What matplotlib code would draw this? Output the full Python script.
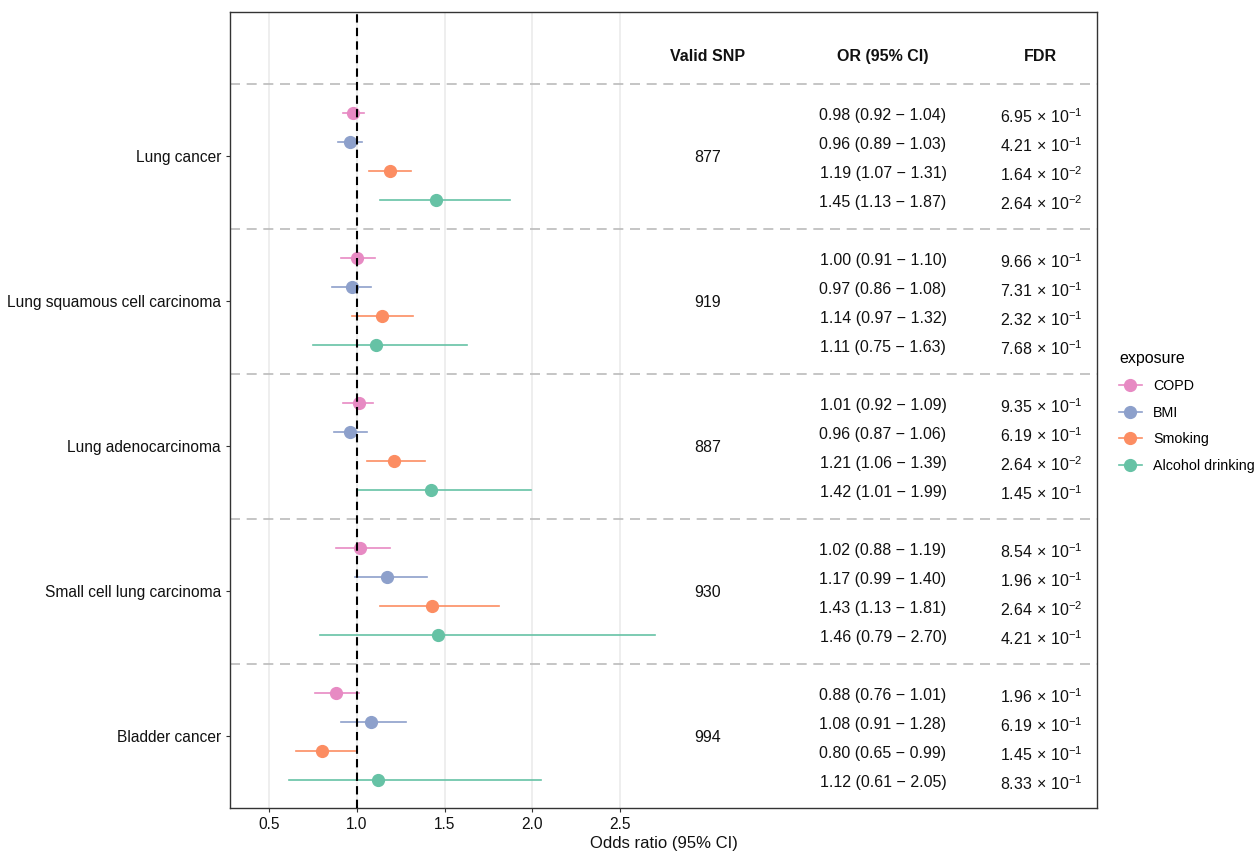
import matplotlib
matplotlib.use("Agg")
import matplotlib.pyplot as plt
from matplotlib.lines import Line2D

plt.rcParams['font.family'] = ['Liberation Sans', 'DejaVu Sans']
plt.rcParams['mathtext.fontset'] = 'custom'
plt.rcParams['mathtext.rm'] = 'Liberation Sans'
plt.rcParams['mathtext.it'] = 'Liberation Sans'

# data
cancers = ['Lung cancer', 'Lung squamous cell carcinoma', 'Lung adenocarcinoma',
           'Small cell lung carcinoma', 'Bladder cancer']
valid_snp = [877, 919, 887, 930, 994]
exposures = ['COPD', 'BMI', 'Smoking', 'Alcohol drinking']
colors = ['#E78AC3', '#8DA0CB', '#FC8D62', '#66C2A5']

# per cancer, rows in order COPD, BMI, Smoking, Alcohol drinking
odds = [[0.98, 0.96, 1.19, 1.45],
        [1.00, 0.97, 1.14, 1.11],
        [1.01, 0.96, 1.21, 1.42],
        [1.02, 1.17, 1.43, 1.46],
        [0.88, 1.08, 0.80, 1.12]]
ci_low = [[0.92, 0.89, 1.07, 1.13],
          [0.91, 0.86, 0.97, 0.75],
          [0.92, 0.87, 1.06, 1.01],
          [0.88, 0.99, 1.13, 0.79],
          [0.76, 0.91, 0.65, 0.61]]
ci_high = [[1.04, 1.03, 1.31, 1.87],
           [1.10, 1.08, 1.32, 1.63],
           [1.09, 1.06, 1.39, 1.99],
           [1.19, 1.40, 1.81, 2.70],
           [1.01, 1.28, 0.99, 2.05]]
fdr_mant = [['6.95', '4.21', '1.64', '2.64'],
            ['9.66', '7.31', '2.32', '7.68'],
            ['9.35', '6.19', '2.64', '1.45'],
            ['8.54', '1.96', '2.64', '4.21'],
            ['1.96', '6.19', '1.45', '8.33']]
fdr_exp = [[-1, -1, -2, -2],
           [-1, -1, -1, -1],
           [-1, -1, -2, -1],
           [-1, -1, -2, -1],
           [-1, -1, -1, -1]]

x_snp, x_or, x_fdr = 3.0, 4.0, 4.9
txt = '#111111'

fig = plt.figure(figsize=(12.57, 8.52), dpi=100)
ax = fig.add_axes([230 / 1257, 1 - 808 / 852, 867 / 1257, 796 / 852])

for g, cancer in enumerate(cancers):
    base = 2 + 5 * g
    ax.axhline(1 + 5 * g, color='#BBBBBB', lw=1.2, ls=(0, (6, 4)), zorder=1)
    ax.text(x_snp, base + 1.5, str(valid_snp[g]), ha='center', va='center_baseline',
            fontsize=11.5, color=txt)
    for r in range(4):
        y = base + r
        ax.plot([ci_low[g][r], ci_high[g][r]], [y, y], color=colors[r], lw=1.2, zorder=3)
        ax.plot(odds[g][r], y, 'o', color=colors[r], ms=8.5, zorder=4)
        ax.text(x_or, y + 0.03, f'{odds[g][r]:.2f} ({ci_low[g][r]:.2f} \u2212 {ci_high[g][r]:.2f})',
                ha='center', va='center_baseline', fontsize=11.5, color=txt)
        ax.text(x_fdr, y + 0.07, r'$\mathregular{%s\,\times\,10^{%d}}$' % (fdr_mant[g][r], fdr_exp[g][r]),
                ha='center', va='center_baseline', fontsize=11.5, color=txt)

ax.axvline(1.0, color='black', lw=1.5, ls=(0, (4, 2.5)), zorder=5)

for x, lab in [(x_snp, 'Valid SNP'), (x_or, 'OR (95% CI)'), (x_fdr, 'FDR')]:
    ax.text(x, 0, lab, ha='center', va='center_baseline', fontsize=11.5,
            fontweight='bold', color=txt)

ax.set_xlim(0.276, 5.22)
ax.set_ylim(25.97, -1.48)
ax.set_xticks([0.5, 1.0, 1.5, 2.0, 2.5])
ax.set_xticklabels(['0.5', '1.0', '1.5', '2.0', '2.5'])
ax.set_yticks([3.5 + 5 * g for g in range(5)])
ax.set_yticklabels(cancers)
ax.grid(axis='x', color='#EBEBEB', lw=1.2, zorder=0)
ax.set_axisbelow(True)
ax.tick_params(axis='both', labelsize=11.2, colors='#333333', labelcolor=txt, length=3)
for s in ax.spines.values():
    s.set_color('#333333')
    s.set_linewidth(1.0)
ax.set_xlabel('Odds ratio (95% CI)', fontsize=12, color=txt, labelpad=3)

handles = [Line2D([0], [0], color=c, lw=1.2, marker='o', ms=8.5) for c in colors]
leg = fig.legend(handles, exposures, title='exposure', loc='upper left',
                 bbox_to_anchor=(1106 / 1257, 1 - 338 / 852), frameon=False,
                 fontsize=10.3, title_fontsize=11.5, handlelength=1.6,
                 labelspacing=0.9, handletextpad=0.8)
leg._legend_box.align = 'left'

fig.savefig('out.png', dpi=100)
